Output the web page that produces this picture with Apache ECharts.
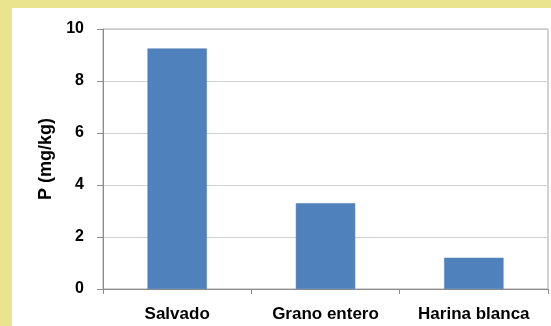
<!DOCTYPE html>
<html><head><meta charset="utf-8">
<script src="https://cdn.jsdelivr.net/npm/echarts@6/dist/echarts.min.js"></script>
<style>html,body{margin:0;padding:0;background:#ebe48e;}#c{width:551px;height:326px;}</style>
</head><body><div id="c"></div>
<script>
const categories = ['Salvado', 'Grano entero', 'Harina blanca'];
const values = [9.25, 3.3, 1.2];
const yTicks = [0, 2, 4, 6, 8, 10];
const yAxisName = 'P (mg/kg)';

const chart = echarts.init(document.getElementById('c'), null, {renderer: 'canvas'});
const font = '"Liberation Sans", Arial, sans-serif';
chart.setOption({
  backgroundColor: '#ebe48e',
  animation: false,
  graphic: [{type: 'rect', z: -10, shape: {x: 12, y: 8, width: 545, height: 330}, style: {fill: '#ffffff'}}],
  grid: {left: 103, right: 3, top: 29, bottom: 37, show: true, borderColor: '#a6a6a6', borderWidth: 1, backgroundColor: 'transparent'},
  xAxis: {
    type: 'category', data: categories,
    axisLine: {lineStyle: {color: '#8c8c8c', width: 1}},
    axisTick: {show: true, alignWithLabel: false, length: 5, inside: false, lineStyle: {color: '#8c8c8c'}},
    axisLabel: {color: '#000', fontWeight: 'bold', fontSize: 17, fontFamily: font, margin: 17, interval: 0, hideOverlap: false}
  },
  yAxis: {
    type: 'value', min: yTicks[0], max: yTicks[yTicks.length - 1], interval: 2,
    name: yAxisName, nameLocation: 'middle', nameGap: 47, nameRotate: 90,
    nameTextStyle: {color: '#000', fontWeight: 'bold', fontSize: 18, fontFamily: font},
    axisLine: {show: true, lineStyle: {color: '#8c8c8c', width: 1}},
    axisTick: {show: true, length: 6, lineStyle: {color: '#8c8c8c'}},
    axisLabel: {color: '#000', fontWeight: 'bold', fontSize: 16, fontFamily: font, margin: 19},
    splitLine: {show: true, lineStyle: {color: '#cfcfcf', width: 1}}
  },
  series: [{
    type: 'bar', data: values, barWidth: '40%',
    itemStyle: {color: '#4f81bd', borderColor: '#4a7ab5', borderWidth: 0.5}
  }]
});
</script></body></html>
